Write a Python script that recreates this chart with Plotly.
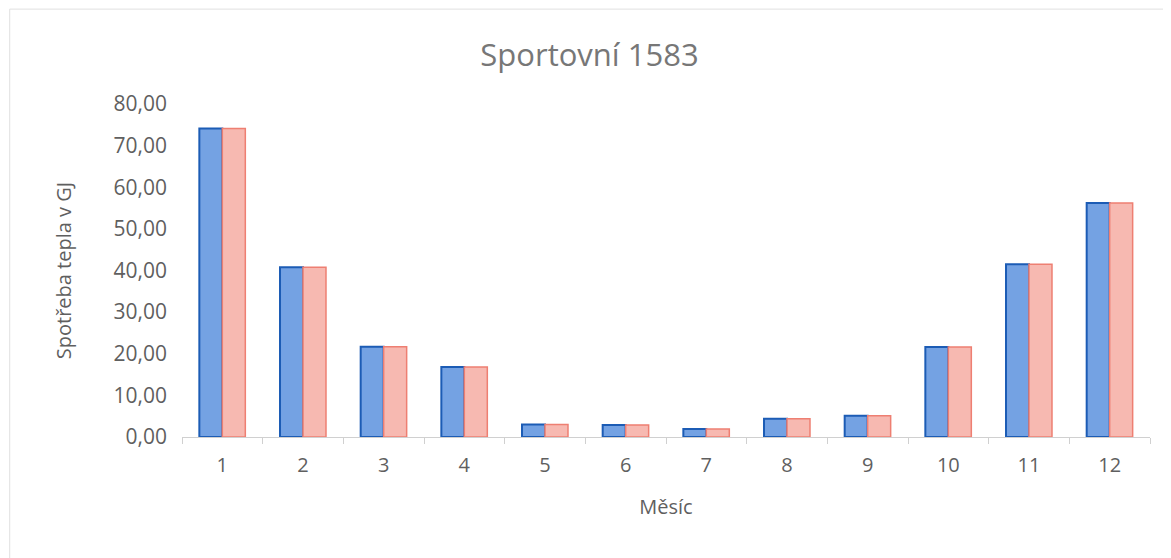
import plotly.graph_objects as go

months = ["1", "2", "3", "4", "5", "6", "7", "8", "9", "10", "11", "12"]
series_a = [74.1, 40.8, 21.7, 16.8, 3.0, 2.9, 1.9, 4.4, 5.1, 21.6, 41.5, 56.2]
series_b = [74.1, 40.8, 21.7, 16.8, 3.0, 2.9, 1.9, 4.4, 5.1, 21.6, 41.5, 56.2]
y_ticks = [0, 10, 20, 30, 40, 50, 60, 70, 80]

grey = "#5f5f5f"
font_family = "'Open Sans', sans-serif"

fig = go.Figure()
fig.add_trace(go.Bar(x=months, y=series_a, name="A",
                     marker=dict(color="#74a2e3", line=dict(color="#1c5cb5", width=2))))
fig.add_trace(go.Bar(x=months, y=series_b, name="B",
                     marker=dict(color="#f7b9b1", line=dict(color="#ee7f72", width=1.5))))

fig.update_layout(
    width=1163, height=550,
    paper_bgcolor="white", plot_bgcolor="white",
    margin=dict(l=174, r=21, t=96, b=121),
    barmode="group", bargap=0.43, bargroupgap=0,
    showlegend=False,
    separators=", ",
    title=dict(text="Sportovní 1583", x=0.5, xanchor="center", y=0.915, yanchor="middle",
               font=dict(family=font_family, size=31, color="#777777")),
    font=dict(family=font_family, color=grey),
)
fig.update_xaxes(
    type="category", showline=True, linecolor="#d0d0d0", linewidth=1,
    ticks="outside", tickson="boundaries", ticklen=6, tickcolor="#d0d0d0",
    tickfont=dict(size=20, color=grey), ticklabelstandoff=10,
    title=dict(text="Měsíc", font=dict(size=20, color=grey), standoff=22),
    showgrid=False,
)
fig.update_yaxes(
    range=[0, 80], tickvals=y_ticks, tickformat=".2f",
    showline=False, showgrid=False, zeroline=False,
    tickfont=dict(size=21, color=grey), ticklabelstandoff=14,
    title=dict(text="Spotřeba tepla v GJ", font=dict(size=20, color=grey), standoff=36),
)
fig.add_shape(type="rect", xref="paper", yref="paper", x0=-0.178, x1=1.02, y0=-0.37, y1=1.285,
              line=dict(color="#e0e0e0", width=1))

fig.write_html("out.html")
